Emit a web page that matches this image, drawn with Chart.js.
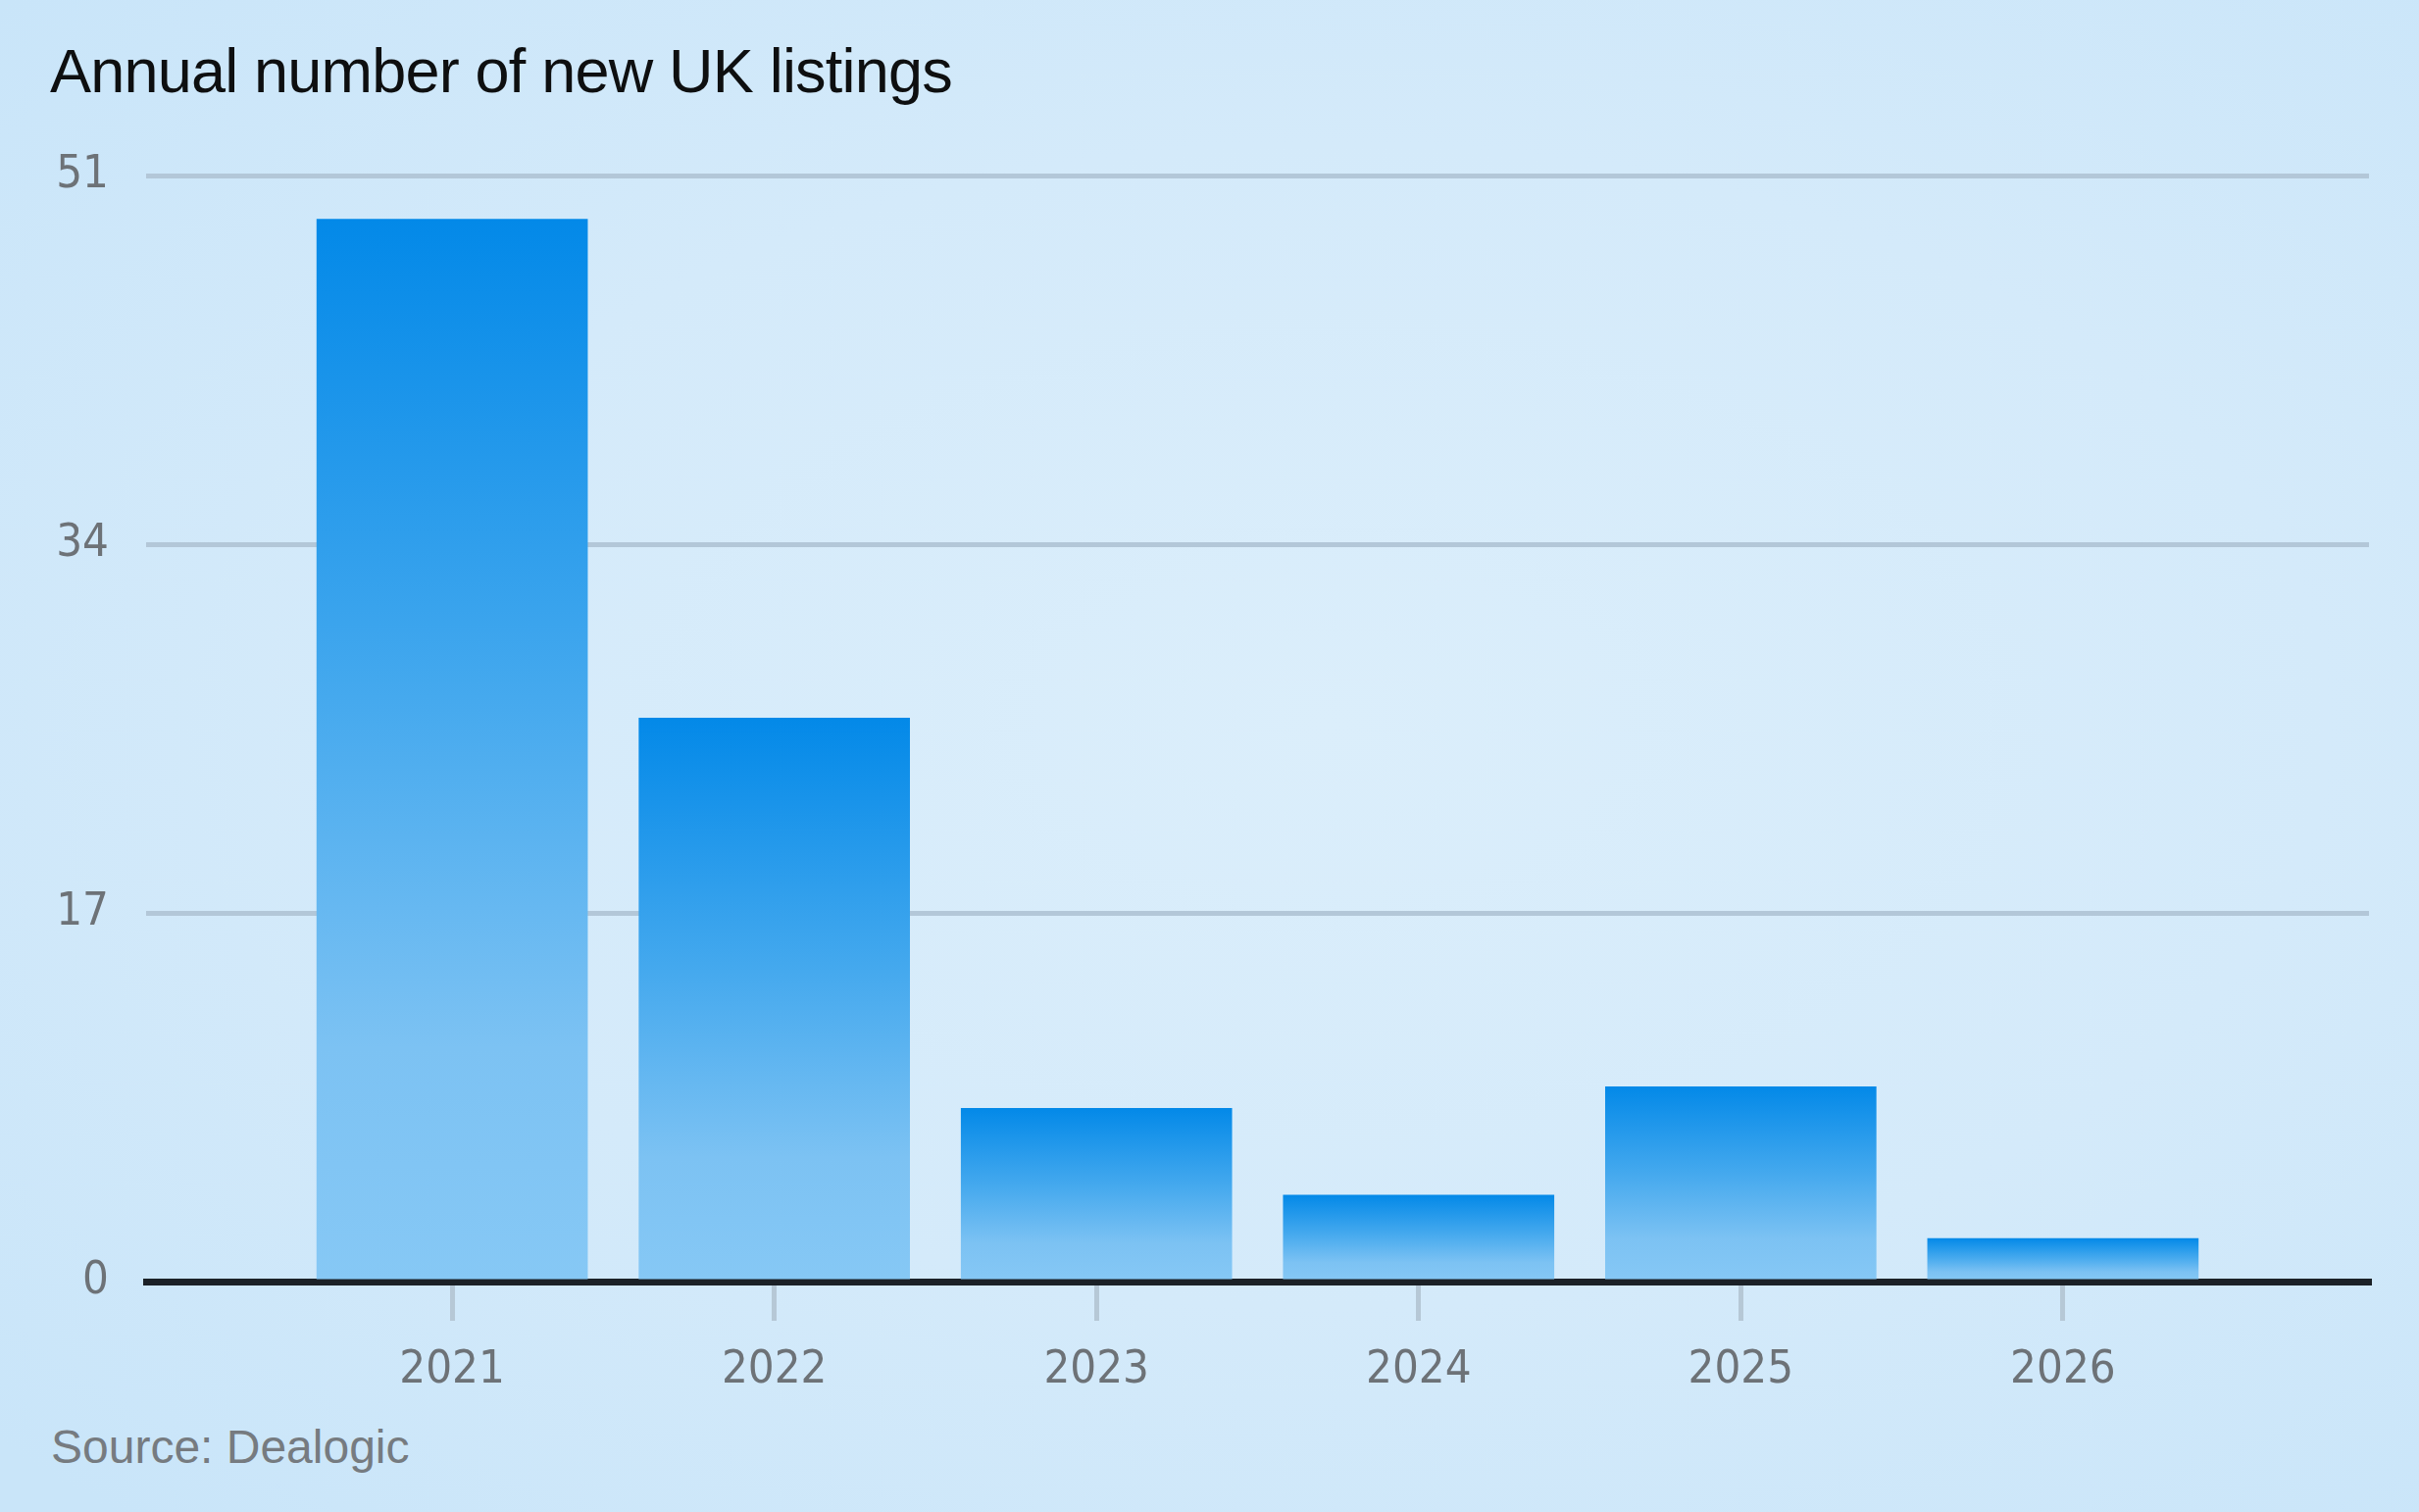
<!DOCTYPE html>
<html>
<head>
<meta charset="utf-8">
<script src="https://cdn.jsdelivr.net/npm/chart.js@4/dist/chart.umd.min.js"></script>
<style>
  html, body { margin: 0; padding: 0; }
  body {
    width: 2467px; height: 1542px; overflow: hidden; position: relative;
    background: radial-gradient(ellipse 75% 70% at 55% 48%, #dbeefb 0%, #d4eafa 55%, #c9e5f9 100%);
  }
  #title {
    position: absolute; left: 51px; top: 41px;
    font: 63px/1 "Liberation Sans", Arial, sans-serif; color: #0e0f10;
    letter-spacing: -0.8px;
  }
  #source {
    position: absolute; left: 52px; top: 1452px;
    font: 48px/1 "Liberation Sans", Arial, sans-serif; color: #767b80;
  }
  #wrap { position: absolute; left: 0; top: 0; width: 2467px; height: 1542px; }
</style>
</head>
<body>
<div id="title">Annual number of new UK listings</div>
<div id="source">Source: Dealogic</div>
<div id="wrap"><canvas id="chart"></canvas></div>
<script>
const years = ['2021', '2022', '2023', '2024', '2025', '2026'];
const listings = [49, 26, 8, 4, 9, 2];
const yTicks = [0, 17, 34, 51];

const tickFont = { family: '"Liberation Sans Narrow", "DejaVu Sans Condensed", sans-serif', size: 47 };

function barGradient(ctx) {
  const chart = ctx.chart;
  if (!chart.chartArea || !ctx.parsed) return '#3fa6ee';
  const y = chart.scales.y;
  const top = y.getPixelForValue(ctx.parsed.y);
  const base = y.getPixelForValue(0);
  if (!isFinite(top) || !isFinite(base) || base - top < 1) return '#3fa6ee';
  const g = chart.ctx.createLinearGradient(0, top, 0, base);
  g.addColorStop(0, '#0389e8');
  g.addColorStop(0.45, '#45a9ee');
  g.addColorStop(0.78, '#7cc2f3');
  g.addColorStop(1, '#86c8f5');
  return g;
}

new Chart(document.getElementById('chart'), {
  type: 'bar',
  data: {
    datasets: [{
      data: years.map((yr, i) => ({ x: i, y: listings[i] })),
      backgroundColor: barGradient,
      borderWidth: 0,
      categoryPercentage: 1,
      barPercentage: 0.842
    }]
  },
  options: {
    responsive: true,
    maintainAspectRatio: false,
    devicePixelRatio: 1,
    animation: false,
    layout: { padding: { top: 179, right: 51, bottom: 85, left: 0 } },
    plugins: { legend: { display: false }, tooltip: { enabled: false } },
    scales: {
      x: {
        type: 'linear',
        min: -0.95,
        max: 5.95,
        offset: false,
        z: 1,
        afterBuildTicks: (scale) => { scale.ticks = years.map((_, i) => ({ value: i })); },
        afterFit: (scale) => { scale.height = 150; },
        border: { display: true, color: '#1b2127', width: 7 },
        grid: {
          offset: false,
          drawOnChartArea: false,
          drawTicks: true,
          tickLength: 40,
          tickWidth: 5,
          tickColor: '#b6c8d6',
          lineWidth: 5
        },
        ticks: {
          autoSkip: false,
          maxRotation: 0,
          padding: 23,
          color: '#6d7277',
          font: tickFont,
          callback: (value) => years[value]
        }
      },
      y: {
        min: 0,
        max: 51,
        afterBuildTicks: (scale) => { scale.ticks = yTicks.map(v => ({ value: v })); },
        afterFit: (scale) => { scale.width = 149; },
        border: { display: false },
        grid: {
          drawTicks: false,
          lineWidth: 5,
          color: (c) => c.tick && c.tick.value === 0 ? 'rgba(0,0,0,0)' : '#b3c7d8'
        },
        ticks: {
          padding: 38,
          color: '#6d7277',
          font: tickFont
        }
      }
    }
  }
});
</script>
</body>
</html>
